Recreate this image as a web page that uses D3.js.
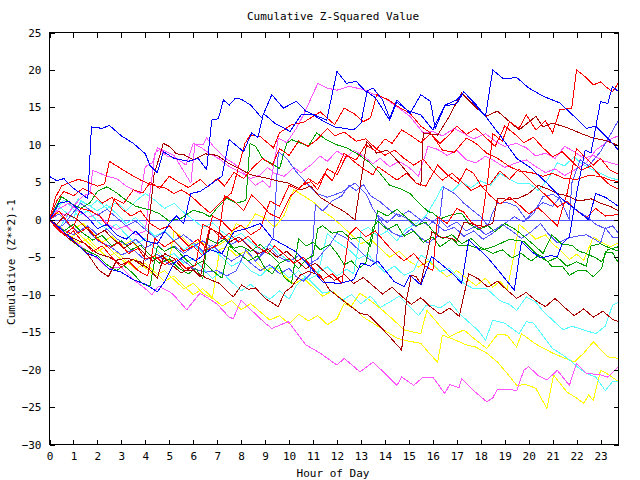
<!DOCTYPE html>
<html><head><meta charset="utf-8">
<script src="https://cdn.jsdelivr.net/npm/d3@7"></script>
<style>
body{margin:0;background:#fff}
svg{display:block}
text{font-family:"DejaVu Sans Mono","Liberation Mono",monospace;font-size:11px;fill:#000}
</style>
</head><body>
<svg id="chart" width="640" height="480"></svg>
<script>
const titleText = "Cumulative Z-Squared Value";
const xLabelText = "Hour of Day";
const yLabelText = "Cumulative (Z**2)-1";
const xTickValues = d3.range(0, 24);
const yTickValues = [-30, -25, -20, -15, -10, -5, 0, 5, 10, 15, 20, 25];
const xDomain = [0, 23.75];
const yDomain = [-30, 25];

// Each series: [hour, cumulative value] vertices
const yellow1 = [[0,0],[0.4,-1.2],[0.8,-2.5],[1.2,-1.8],[1.6,-3],[2,-4.2],[2.4,-3.5],[2.8,-4.8],[3.2,-5.8],[3.6,-5.2],[4,-6.4],[4.4,-7.5],[4.8,-6.8],[5.2,-8],[5.6,-9.2],[6,-8.5],[6.4,-9.8],[6.8,-10.5],[7.1,-4],[7.4,-3.6],[7.8,-4.8],[8.2,-4.2],[8.6,-5.6],[9,-6.8],[9.4,-6.3],[9.8,-7.5],[10.2,-8.6],[10.6,-7.8],[11,-9],[11.4,-10.2],[11.8,-9.5],[12.2,-10.6],[12.6,-11.5],[12.96,-9.8],[13.4,-10.8],[13.8,-11.8],[14.3,-13.2],[14.8,-14.7],[15.2,-15],[15.5,-15.2],[15.75,-12.1],[16.2,-13.8],[16.7,-15.6],[17.3,-14.7],[17.7,-15.8],[18.25,-17.2],[18.7,-15.3],[19.1,-15.4],[19.5,-17],[19.7,-15.2],[20.3,-16.6],[21,-17.8],[21.9,-19],[22.3,-17.8],[22.7,-16.3],[23.3,-18.3],[23.75,-18.5]];
const yellow2 = [[0,0],[0.4,-0.8],[0.8,-2],[1.2,-3.2],[1.6,-2.5],[2,-3.8],[2.4,-5],[2.8,-4.3],[3.2,-5.5],[3.6,-6.6],[4,-5.8],[4.4,-7],[4.8,-8.2],[5.2,-7.5],[5.6,-8.8],[6,-10],[6.4,-9.2],[6.8,-10.4],[7.2,-11.5],[7.6,-10.8],[8,-12],[8.4,-11.2],[8.8,-12.3],[9.2,-13.4],[9.6,-12.8],[10,-13.9],[10.4,-12.6],[10.8,-13.5],[11.2,-12.8],[11.6,-14],[12,-13.2],[12.3,-11.2],[12.7,-11.8],[13.1,-13],[13.5,-13.8],[14,-14.8],[14.5,-15.8],[15,-16.2],[15.5,-16.5],[15.9,-18],[16.2,-19],[16.4,-15.4],[16.9,-16],[17.4,-16.7],[17.8,-17],[18.25,-17.8],[18.7,-19],[19.1,-20.5],[19.5,-22.1],[19.9,-22],[20.3,-22.5],[20.76,-25.2],[21.04,-20.7],[21.3,-21.8],[21.6,-23],[22,-23.8],[22.3,-24.5],[22.5,-23.4],[22.7,-24.1],[23,-20.1],[23.3,-20.6],[23.75,-21.6]];
const yellow3 = [[0,0],[0.3,1],[0.6,0.2],[1,-1.2],[1.4,-0.5],[1.8,-1.8],[2.2,-3],[2.6,-2.2],[3,-3.5],[3.4,-2.8],[3.8,-4],[4.2,-5.2],[4.6,-4.4],[5,-5.6],[5.2,-1.5],[5.5,-2.2],[5.9,-3.5],[6.3,-2.8],[6.7,-4],[7.1,-3.3],[7.5,-2.5],[7.8,-0.5],[8.2,-1.2],[8.6,0.8],[9,0.2],[9.4,-1],[9.8,0.6],[10.2,4],[10.6,3.2],[11,2.4],[11.4,1.2],[11.8,0.3],[12.2,-0.8],[12.6,-2],[13,-3.2],[13.4,-2.6],[13.8,-3.8],[14.2,-5],[14.6,-4.2],[15,-5.5],[15.4,-6.3],[15.8,-5.5],[16.2,-6.6],[16.6,-7.6],[17,-6.8],[17.4,-7.8],[17.8,-8.8],[18.2,-7.8],[18.5,-9],[18.8,-8.2],[19.1,-9.3],[19.4,-4.5],[19.6,-0.6],[19.9,-1.4],[20.3,-2.6],[20.7,-2],[21,-3.2],[21.3,-4],[21.7,-5.3],[22,-4.6],[22.3,-5.4],[22.7,-2.3],[23,-2.9],[23.4,-3.6],[23.75,-3.1]];
const cyan1 = [[0,0],[0.3,1.5],[0.6,2.6],[0.9,1.8],[1.2,0.5],[1.6,1.2],[2,-0.2],[2.4,-1.3],[2.8,-0.6],[3.2,-2],[3.6,-3.2],[4,-2.5],[4.4,-3.8],[4.8,-5],[5.2,-4.5],[5.6,-5.8],[6,-5.2],[6.4,-6.5],[6.8,-7.8],[7.2,-7],[7.6,-8.3],[8,-9.5],[8.4,-8.6],[8.8,-9.8],[9.2,-10.6],[9.6,-9.5],[10,-10.6],[10.3,-8.8],[10.7,-7.6],[11,-8.5],[11.4,-9.8],[11.8,-9.5],[12.2,-10.8],[12.6,-10],[13,-11.2],[13.4,-10.2],[13.8,-11.7],[14.2,-11],[14.6,-10.2],[15,-11.5],[15.4,-12.8],[15.7,-11.5],[16,-11.4],[16.3,-11.8],[16.7,-10.9],[17.1,-12.5],[17.55,-13.8],[17.9,-14.8],[18.2,-16.1],[18.5,-13.4],[19,-13.8],[19.3,-14.5],[19.6,-15.2],[19.9,-13.6],[20.2,-13.8],[20.6,-15.5],[21,-17.2],[21.4,-18],[21.7,-18.7],[22.1,-19.8],[22.4,-20.5],[22.8,-21],[23.2,-22.8],[23.5,-21.6],[23.75,-21.6]];
const cyan2 = [[0,0],[0.4,-1.2],[0.8,0.8],[1.2,2.8],[1.6,2],[2,1.2],[2.4,2],[2.8,0.8],[3.2,-0.5],[3.6,0.3],[4,-1],[4.4,-2.2],[4.8,-1.5],[5.2,-2.8],[5.6,-4],[6,-3.2],[6.4,-4.5],[6.8,-3.8],[7.2,-5],[7.6,-6.2],[8,-5.5],[8.4,-6.8],[8.8,-7.5],[9.2,-6.3],[9.6,-6.5],[10,-7.8],[10.4,-6.8],[10.8,-8],[11.2,-7.3],[11.6,-1.8],[11.8,-2.5],[12.1,-3.2],[12.5,-4],[12.9,-5.2],[13.3,-4.6],[13.6,-5.8],[14,-7],[14.4,-6.2],[14.8,-7.4],[15.2,-6.8],[15.5,-4.7],[15.9,-5.5],[16.3,-6.9],[16.7,-6.5],[17.3,-8.5],[17.7,-9.2],[18.25,-9.2],[18.8,-10.8],[19.2,-11.3],[19.5,-12.1],[19.9,-10.3],[20.3,-11],[20.6,-12.2],[21,-13.4],[21.45,-14.7],[21.8,-14.2],[22.2,-14.6],[22.8,-15.2],[23.2,-14.2],[23.5,-11.4],[23.75,-11]];
const cyan3 = [[0,0],[0.3,2],[0.6,1.2],[1,0.2],[1.3,2.5],[1.7,1.8],[2,2.6],[2.4,1.5],[2.8,2.3],[3.2,1.2],[3.6,2.5],[4,3.5],[4.4,2.6],[4.8,1.5],[5.2,2.2],[5.6,1],[6,0],[6.4,-1],[6.8,-0.4],[7.2,-1.6],[7.6,-2.5],[8,-1.8],[8.4,-3],[8.8,-4],[9.2,-3.3],[9.6,-4.6],[10,-5.5],[10.4,-4.8],[10.8,-6],[11.2,-7],[11.6,-6.3],[12,-7.5],[12.4,-6.6],[12.7,-7.2],[13,-1.5],[13.3,-1],[13.7,-2.2],[14.1,-1.5],[14.5,-2.8],[14.9,-1.2],[15.3,-0.5],[15.7,0.5],[16.1,2.6],[16.4,4.4],[16.8,3.8],[17.2,5],[17.6,4.3],[18,5.2],[18.4,4.6],[18.8,6.2],[19.2,5.4],[19.6,4.8],[20,4.9],[20.4,3.9],[20.8,5.4],[21.2,7.6],[21.5,7.2],[21.9,8.4],[22.2,7.5],[22.6,6.8],[23,6.2],[23.4,5.6],[23.75,5.3]];
const magenta1 = [[0,0],[0.5,-1.5],[1,-2.8],[1.5,-4],[2,-5.2],[2.46,-6.5],[3,-6.3],[3.5,-8],[4,-9.2],[4.27,-10],[4.55,-8.9],[5,-9.6],[5.17,-10],[5.73,-12],[6.28,-9.8],[6.98,-11.2],[7.5,-13],[7.67,-13.2],[8,-10.7],[8.5,-12.3],[9,-13.8],[9.28,-14.5],[9.97,-13.6],[10.7,-16.7],[11.3,-17.8],[12,-19.4],[12.3,-18.5],[12.96,-20.3],[13.5,-19],[14,-20.5],[14.5,-22.1],[14.7,-21],[15.2,-22.1],[15.6,-21],[16,-21],[16.5,-23.2],[16.7,-22],[17.1,-22.4],[17.2,-21.2],[17.7,-22.8],[18.25,-24.3],[18.5,-23.8],[18.7,-22.6],[19.1,-22.6],[19.5,-22.8],[19.8,-20.1],[20,-19.6],[20.4,-20.8],[20.76,-21.4],[21.2,-20.1],[21.7,-22.1],[22,-19.2],[22.4,-20.5],[23,-20.7],[23.3,-21],[23.75,-19.6]];
const magenta2 = [[0,0],[0.3,1.2],[0.7,0.5],[1,1.8],[1.4,3.2],[1.7,3.5],[1.8,6.6],[2.1,6.2],[2.4,5.8],[2.8,5.5],[3.2,4.5],[3.5,4],[3.8,3.5],[4,7.1],[4.3,7.6],[4.5,9.6],[4.8,9.2],[5.2,8.6],[5.6,6.5],[5.9,4.9],[6.07,10],[6.4,10],[6.56,10.9],[6.9,9.6],[7.3,8.3],[7.7,7.5],[8,6.7],[8.3,5.5],[8.6,4.6],[8.9,5.2],[9.2,4.3],[9.55,10.9],[9.9,10.3],[10.3,12.2],[10.6,14],[11.2,18.2],[11.56,17.6],[12,17.3],[12.5,17.8],[13.1,17.4],[13.5,16.8],[14,16.2],[14.5,15.1],[15.05,13.8],[15.6,11.6],[16,11.8],[16.4,11.2],[16.9,12.2],[17.3,11.5],[17.7,10.8],[18.2,11.5],[18.6,10.5],[19,9.8],[19.5,10.2],[19.9,9.6],[20.3,8.5],[20.7,8.9],[21.1,8.2],[21.5,9.8],[21.9,9.1],[22.3,8.2],[22.7,8.6],[23.1,7.9],[23.75,7.3]];
const magenta3 = [[0,0],[0.4,1.5],[0.8,2.2],[1.2,1.2],[1.6,0.3],[2,0.8],[2.4,-0.5],[2.8,-1.3],[3.2,-0.8],[3.6,-2],[4,-1.5],[4.4,8.9],[4.6,9.4],[4.9,8.5],[5.3,8.2],[5.7,7.3],[6,10.2],[6.3,9.7],[6.7,8.8],[7.1,8.1],[7.5,7.1],[8,6.3],[8.4,5.5],[8.8,6],[9.1,7],[9.4,6.2],[9.8,5.8],[10.2,7],[10.5,6.3],[10.9,7.3],[11.3,8.5],[11.6,7.8],[12,9.2],[12.4,8.3],[12.7,9.3],[13.1,8.5],[13.5,7.5],[13.8,8.2],[14.2,7.1],[14.6,7.8],[15,7],[15.4,5.8],[15.8,9.8],[16.2,9.4],[16.6,8.6],[17,9.3],[17.4,8],[17.8,7.6],[18.2,8.5],[18.6,7.8],[19,7],[19.4,7.5],[19.9,8],[20.3,7.1],[20.7,6.3],[21.1,6.8],[21.5,5.9],[22,6.8],[22.4,7.6],[22.8,9.3],[23.2,10.2],[23.5,10.9],[23.75,11.2]];
const lightblue1 = [[0,0],[0.5,-1.2],[1,-2],[1.5,-1],[2,-2.8],[2.5,-3.5],[3,-4.7],[3.5,-4],[4,-5.4],[4.5,-4.6],[5,-6],[5.5,-5.2],[6,-6.5],[6.5,-7],[7,-6.8],[7.4,-7.5],[7.8,-6.8],[8.2,-4],[8.6,-5.5],[9,-4.2],[9.35,-2.3],[9.55,9.1],[9.9,8.2],[10.3,6.4],[10.7,5],[11.15,3.5],[11.6,3],[12.2,3.7],[12.75,4.9],[13.2,3.5],[13.5,1.5],[13.9,-0.5],[14.3,-1.7],[14.7,-2.3],[15.1,-1.2],[15.5,-2.4],[15.8,-3.1],[16.2,-2.2],[16.44,4.4],[16.9,3.5],[17.3,2.2],[18,0.4],[18.3,-0.8],[18.5,1],[18.7,2.2],[19.1,2.3],[19.5,1.8],[19.9,0],[20.2,0.8],[20.6,3.1],[21,3.4],[21.3,2.8],[21.7,0],[21.8,4.9],[22.15,8],[22.5,7.2],[23,9.1],[23.4,11.3],[23.75,13.3]];
const lightblue2 = [[0,0],[0.4,0.8],[0.8,-0.6],[1.2,-1.6],[1.6,-0.8],[2,-2],[2.4,-1.2],[2.8,-2.5],[3.2,-3.4],[3.6,-2.6],[4,-3.8],[4.4,-3],[4.8,-4.2],[5.2,-3.5],[5.6,-4.5],[6,-3.6],[6.4,-2.8],[6.8,-3.8],[7.2,-2.2],[7.6,-3.3],[8,-2.5],[8.4,-3.8],[8.8,-4.6],[9.2,-3.8],[9.6,-5],[10,-5.6],[10.4,-4.8],[10.8,-6],[11.2,-5.2],[11.5,-4],[11.65,-3.6],[12,-1.8],[12.4,-2.5],[13,-4.3],[13.3,-5.2],[13.65,-5.8],[13.75,0.5],[14.1,-0.4],[14.5,0.8],[14.9,0.2],[15.3,-1],[15.7,0.3],[16.1,-0.5],[16.5,-1.5],[16.9,-1],[17.3,-2.2],[17.7,-1.5],[18.1,-2.6],[18.5,-1.8],[18.9,-0.6],[19.3,-1.5],[19.7,-2.5],[20.1,-1.6],[20.5,-0.5],[20.8,-1.8],[21.2,-3.1],[21.6,-2.5],[22,-2.2],[22.4,-2],[22.7,-2.5],[23,-3.1],[23.2,-1.1],[23.5,-2.3],[23.75,-2.4]];
const lightblue3 = [[0,0],[0.3,-1.2],[0.6,-0.6],[1,1],[1.3,2.2],[1.6,1.5],[2,0.6],[2.4,1.4],[2.8,0.3],[3.2,-0.8],[3.6,-0.2],[4,-1.3],[4.4,-2.4],[4.8,-1.6],[5.2,-2.8],[5.6,-2],[6,-3],[6.4,-4.2],[6.8,-3.4],[7.2,-4.6],[7.6,-5.5],[8,-4.7],[8.4,-5.8],[8.8,-6.8],[9.2,-6],[9.6,-7.2],[10,-6.5],[10.3,-7.6],[10.6,-8.2],[10.9,-7.2],[11.1,2],[11.4,1.2],[11.8,2.5],[12.2,3.2],[12.5,4.6],[12.8,3.9],[13.1,4.7],[13.4,3.2],[13.8,2.4],[14.2,1.3],[14.6,0.4],[15,1.2],[15.4,0.2],[15.8,-0.8],[16.2,0.3],[16.6,-1],[17,-0.3],[17.4,-1.5],[17.8,-0.8],[18.2,-2],[18.6,-1.3],[19,-0.5],[19.4,0.4],[19.8,-0.3],[20.2,1.2],[20.6,2.3],[21,1.8],[21.3,3],[21.7,2.1],[22,1.2],[22.4,0.5],[22.8,-0.6],[23.2,-1.2],[23.5,-0.8],[23.75,-1.8]];
const green1 = [[0,0],[0.3,1.8],[0.5,3.1],[0.9,2.2],[1.3,1.5],[1.7,2.3],[2,3.8],[2.4,4.4],[2.8,3.6],[3.2,2.6],[3.6,1.8],[4.2,1.3],[4.6,0.8],[5,-0.2],[5.5,0.2],[6,1.3],[6.4,0.9],[6.7,0.4],[7,1.6],[7.4,2.9],[7.8,2.2],[8.2,2.6],[8.37,10.2],[8.6,9.8],[8.93,8],[9.3,7.5],[9.6,6.8],[9.9,10.2],[10.1,10.7],[10.5,10.2],[10.8,9.8],[11.15,11.6],[11.5,10.8],[12,10],[12.4,9.6],[12.8,8.9],[13.3,7.8],[13.8,6.2],[14.2,4.6],[14.6,4.2],[15.05,3.5],[15.4,2.3],[15.8,1.1],[16,0.9],[16.3,0.1],[16.7,0.6],[17.2,0.9],[17.5,-0.5],[17.9,-1.3],[18.3,-0.8],[18.6,-1.6],[19,-0.5],[19.4,-1.2],[19.8,-2.2],[20.3,-3.6],[20.6,-4.5],[20.97,-2],[21.4,-3.3],[21.8,-3.4],[22.1,-4.2],[22.4,-4.5],[22.8,-5.1],[23.05,-5.6],[23.3,-4],[23.75,-3.6]];
const green2 = [[0,0],[0.4,-1.3],[0.8,-2.5],[1.2,-3.5],[1.6,-4.2],[2,-4.8],[2.4,-6],[2.8,-6.8],[3.1,-6.1],[3.5,-7.2],[3.9,-8.6],[4.2,-8.8],[4.5,-3.5],[4.8,-4.2],[5.2,-3.6],[5.6,-5],[6,-6.2],[6.4,-5.5],[6.8,-6.8],[7.2,-7.8],[7.5,-3.5],[7.9,-4.5],[8.3,-5.5],[8.7,-4.8],[9,-6.5],[9.3,-7.2],[9.55,-6],[9.8,-7.7],[10.1,-8.5],[10.4,-2.5],[10.7,-3.5],[11,-3],[11.3,-4],[11.7,-3.3],[12,-4.5],[12.3,-6],[12.6,-5.5],[12.9,-6.5],[13.2,-5.8],[13.5,-1],[13.7,-0.2],[14.1,-1.3],[14.5,-0.6],[14.8,-2.2],[15.2,-1.5],[15.6,-3],[16,-2.3],[16.3,-3.6],[16.8,-2.5],[17.1,-3.5],[17.5,-3.4],[18.1,-4],[18.6,-3.5],[19.2,-2.6],[19.8,-2.9],[20.3,-4.5],[20.6,-5],[21,-6.3],[21.4,-6.2],[21.7,-7.4],[22.1,-6.7],[22.4,-6.8],[22.7,-7.6],[23.05,-6.5],[23.2,-4.3],[23.5,-4.4],[23.75,-5.8]];
const green3 = [[0,0],[0.3,-0.8],[0.6,-1.5],[1,-0.6],[1.4,-1.8],[1.8,-2.7],[2.2,-2.1],[2.6,-3.5],[3,-2.8],[3.4,-4],[3.8,-3.4],[4.2,-4.7],[4.6,-5.8],[5,-5.2],[5.4,-6.5],[5.8,-7.2],[6.1,-6.5],[6.4,-7.8],[6.6,-2.5],[7,-3.2],[7.3,-2.6],[7.7,-3.8],[8,-3.5],[8.4,-4.2],[8.8,-3.3],[9.2,-4.6],[9.6,-5.8],[10,-5.2],[10.4,-6.5],[10.7,-5.3],[11,-4.8],[11.2,-1.2],[11.4,-0.8],[11.8,-1.8],[12.2,-1.5],[12.6,-2.6],[13,-2.3],[13.4,-3.5],[13.7,1.2],[14.1,0.5],[14.5,1.4],[14.9,0.3],[15.3,-0.8],[15.7,-0.3],[16,-1.5],[16.4,-2.5],[16.8,-2],[17.2,-3.2],[17.6,-2.5],[18,-3.7],[18.5,-4.5],[18.9,-4],[19.3,-5.1],[19.7,-4.5],[20.1,-5.5],[20.4,-4.8],[20.8,-5.6],[21.2,-5],[21.6,-6.2],[22,-5.6],[22.4,-6.2],[22.6,-3.5],[23,-3.2],[23.4,-3.8],[23.75,-4.2]];
const darkred1 = [[0,0],[0.4,-1.4],[0.8,-2.5],[1.2,-3.4],[1.6,-4.6],[2.05,-6.7],[2.46,-7.6],[2.8,-5.4],[3.2,-5.1],[3.78,-5.6],[4.2,-6.7],[4.5,-7.8],[4.8,-4.5],[5.2,-5.2],[5.6,-6.7],[6,-6.8],[6.56,-7.8],[7.1,-8.5],[7.67,-10.3],[8.02,-8.7],[8.3,-9.3],[8.6,-9.1],[9,-10.5],[9.55,-11.6],[9.83,-9.6],[10.1,-9],[10.46,-7.4],[10.8,-6.9],[11.3,-7.4],[11.7,-9.4],[12.3,-10.9],[12.96,-12.5],[13.3,-12.7],[13.66,-13.8],[14.08,-15.2],[14.7,-17.4],[14.9,-10.7],[15.1,-7.4],[15.3,-7.6],[15.5,-8.5],[15.96,-1.6],[16.3,-2.3],[16.8,-2.5],[17,-2.9],[17.3,-0.3],[17.8,-0.7],[18.1,-0.9],[18.5,-0.5],[18.7,2.9],[19.2,2.7],[19.6,2.9],[20,3.5],[20.4,4.6],[20.8,4.1],[21.2,3.5],[21.6,3.2],[22.1,2.5],[22.6,2.8],[23,2.2],[23.4,1.8],[23.75,1.2]];
const darkred2 = [[0,0],[0.4,-1.5],[1,-2.5],[1.5,-3.2],[2,-4.5],[2.5,-5],[3,-6],[3.5,-5.3],[3.9,-6.2],[4.1,-2.3],[4.35,5.8],[4.75,10.2],[5,9.8],[5.3,8.8],[5.6,8.7],[6,8],[6.5,8.8],[7,8.6],[7.5,7.5],[8,6.7],[8.4,6],[9,5.6],[9.5,5.2],[9.97,4.9],[10.5,4],[10.9,4.5],[11.3,3],[11.8,2],[12.3,1.1],[12.75,0],[13.25,10.4],[13.65,8.9],[14.1,9.3],[14.6,7.6],[15.3,4.9],[15.5,4.6],[15.6,11.6],[16.2,11.3],[16.65,13.6],[17.2,16.9],[17.7,15.3],[18.2,13.8],[18.7,14.5],[19.2,13.1],[19.6,12],[20.3,13.8],[20.6,12.4],[21,12.9],[21.6,12.3],[22.2,11.5],[22.7,10.9],[23.2,10.6],[23.75,9.9]];
const darkred3 = [[0,0],[0.3,-0.6],[0.7,0.8],[1.1,0.2],[1.5,-1],[1.9,-2.2],[2.3,-1.4],[2.7,-2.7],[3.1,-3.8],[3.5,-3],[3.9,-4.3],[4.3,-5.5],[4.7,-4.8],[5.1,-6],[5.5,-7.1],[5.9,-6.4],[6.3,-7.6],[6.7,-1.2],[7.1,-1.8],[7.5,-3],[7.9,-2.3],[8.3,-3.5],[8.7,-4.6],[9.1,-3.9],[9.5,-5],[9.9,-4.2],[10.3,-5.4],[10.7,-6.5],[11.1,-5.8],[11.5,-7],[11.9,-8.1],[12.3,-7.3],[12.7,-8.5],[13.1,-7.7],[13.5,-8.8],[13.9,-9.9],[14.3,-9],[14.7,-10.2],[15.1,-11.3],[15.5,-10.4],[15.9,-11.6],[16.3,-12.6],[16.7,-11.8],[17.1,-12.9],[17.5,-7.2],[17.9,-7.9],[18.3,-9],[18.7,-8.2],[19.1,-9.4],[19.5,-10.5],[19.9,-9.7],[20.3,-10.8],[20.7,-11.6],[21.1,-10.5],[21.5,-11.7],[21.9,-12.8],[22.3,-11.9],[22.7,-13],[23.1,-12.2],[23.5,-13.3],[23.75,-13.6]];
const red1 = [[0,0],[0.25,3],[0.5,4.5],[0.8,4.9],[1.2,5.4],[1.6,5],[2,4.5],[2.3,4.8],[2.5,7.8],[2.9,7],[3.3,6.2],[3.8,5.3],[4.3,4.6],[4.8,4.3],[5.2,3.5],[5.5,4],[5.9,3.2],[6.3,2],[6.7,0.9],[7.2,2.5],[7.6,3.6],[8.16,10.2],[8.37,11.3],[8.8,11.1],[9.35,9.6],[9.6,11.6],[10.1,12.7],[10.6,13],[11.3,14.4],[11.9,12.7],[12.3,14.9],[12.7,14.2],[13.1,13.1],[13.4,13.6],[13.66,16.7],[14.15,16],[14.6,15],[15.05,14.2],[15.5,12.5],[15.9,11.6],[16.4,9.3],[16.9,9],[17.4,10.9],[17.8,10.2],[18.25,8.9],[18.7,8.2],[19.2,7.1],[19.6,6.5],[20.1,6.3],[20.6,5.8],[21,6.2],[21.5,5.5],[22,5.4],[22.5,5.9],[23,5.8],[23.4,5.3],[23.75,5.1]];
const red2 = [[0,0],[0.4,1.2],[0.8,-0.5],[1.2,-1.8],[1.6,-1],[2,-2.6],[2.5,-3.8],[2.9,-3],[3.3,-4.5],[3.7,-3.8],[4,-5.2],[4.4,-4.8],[4.8,-6],[5.3,-5.2],[5.7,-6.5],[6.1,-6.1],[6.4,-0.6],[6.8,-1.3],[7.2,-2.6],[7.5,-1.8],[7.9,-3],[8.3,-2.2],[8.7,-3.6],[9.1,-4.5],[9.4,-3.5],[9.8,-4.6],[10.2,-5.8],[10.6,-5],[11,-6.5],[11.4,-8],[11.8,-7.2],[12.2,-8.5],[12.5,-2],[12.8,-1],[13.2,-2.3],[13.6,-1.5],[14,-3],[14.4,-4.4],[14.8,-5.5],[15.2,-4.5],[15.6,-6],[16,-6.8],[16.2,0.4],[16.6,-0.5],[17,1.5],[17.3,1],[17.6,-0.3],[18,-1.2],[18.3,5.5],[18.5,11.5],[18.9,10.5],[19.2,13.1],[19.6,12.2],[19.9,14],[20.3,12],[20.7,13.2],[21,11.6],[21.3,14.7],[21.8,14.9],[22,20],[22.4,19],[22.7,18],[23,18.4],[23.25,17.7],[23.5,17.1],[23.75,18.3]];
const red3 = [[0,0],[0.3,2.5],[0.6,3.8],[1,3.2],[1.4,4.2],[1.8,3.5],[2.2,2.2],[2.6,3],[3,1.5],[3.4,0.5],[3.8,1.2],[4.2,-0.5],[4.6,-1.3],[5,-0.8],[5.4,-2.2],[5.8,-3.5],[6.2,-2.6],[6.6,-4],[7,-3.4],[7.3,3.2],[7.7,2.5],[8.1,1.2],[8.44,3.3],[8.8,2.2],[9.2,0.8],[9.6,0.2],[10.04,3.1],[10.5,4.5],[10.9,5.1],[11.2,4],[11.5,6.2],[11.8,5.2],[12.06,7.1],[12.3,8.9],[12.7,7.8],[13.1,6.8],[13.5,6],[13.7,7.1],[14.1,6.2],[14.5,5.3],[14.9,6.2],[15.3,4.9],[15.7,4.5],[16.2,7.3],[16.6,6],[17.07,4.9],[17.4,6.8],[17.7,6.2],[18.05,4.4],[18.4,4.8],[18.8,6.5],[19.2,5.4],[19.6,6.8],[20,5.5],[20.4,4.2],[20.8,3],[21.2,1.7],[21.6,2.5],[22,1.2],[22.4,0.3],[22.8,1.5],[23.2,0.5],[23.75,0.7]];
const red4 = [[0,0],[0.3,-1.2],[0.6,-2],[1,-1],[1.3,1.5],[1.7,1.2],[2.1,0.5],[2.4,-0.8],[2.7,2.8],[3.1,2.2],[3.5,4],[3.9,3.6],[4.2,5],[4.6,4.2],[5,5.8],[5.4,5],[5.8,4.3],[6.3,5.4],[6.6,4.4],[7,5.5],[7.3,4.5],[7.7,6.3],[8.1,5.5],[8.5,7],[8.9,8.2],[9.3,7.3],[9.6,9.5],[10,8.6],[10.4,10.5],[10.8,9.8],[11.2,10.8],[11.6,12.2],[11.9,11.2],[12.3,11.7],[12.8,10.5],[13.2,10.8],[13.6,9.6],[14,8.6],[14.4,9.3],[14.8,8.2],[15.2,7.3],[15.6,8.1],[16,6.5],[16.4,5.3],[16.8,6.2],[17.2,5.1],[17.6,3.9],[18,4.6],[18.4,3.2],[18.8,2.1],[19.2,3],[19.6,2],[20,0.8],[20.4,1.6],[20.8,0.4],[21.2,-0.8],[21.6,3.5],[22,9.5],[22.3,8.5],[22.7,7.3],[23,8.2],[23.4,6.6],[23.75,6.1]];
const red5 = [[0,0],[0.3,-1],[0.7,-2.2],[1,-1.5],[1.4,-3],[1.8,-4.2],[2.2,-3.5],[2.6,-5],[3,-6.4],[3.3,-5.5],[3.7,-6.8],[4.1,-7.5],[4.4,-2.5],[4.8,-3.6],[5.2,-2.8],[5.6,-4.2],[6,-3.5],[6.4,-4.8],[6.8,0.5],[7.2,-0.2],[7.6,-1.5],[8,-0.7],[8.4,-2],[8.8,-1.2],[9.2,2.5],[9.6,1.8],[10,4.6],[10.4,4],[10.8,5.5],[11.2,4.7],[11.6,6.8],[12,6],[12.4,8.6],[12.8,8],[13.2,10],[13.6,9.2],[14,10.8],[14.3,10.2],[14.7,12],[15.1,11.2],[15.5,10.3],[15.9,11.5],[16.3,10.2],[16.7,11.4],[17,12.5],[17.4,11.4],[17.8,12.2],[18.2,11],[18.6,9.8],[19,12.5],[19.4,11.5],[19.8,10.3],[20.2,11],[20.6,9.6],[21,8.4],[21.4,9.1],[21.8,7.8],[22.2,6.6],[22.6,7.2],[23,5.8],[23.4,4.6],[23.75,4.1]];
const blue1 = [[0,5.8],[0.3,5.2],[0.6,5.5],[1,4.2],[1.4,3.3],[1.6,2.8],[1.75,12.4],[2.2,12.2],[2.5,12.6],[3,11.2],[3.5,10.2],[4,8.8],[4.2,7.2],[4.5,6.3],[4.75,9.1],[5.2,8.2],[5.8,7.8],[6.2,8.2],[6.56,6.7],[6.77,13.3],[7.05,13.5],[7.26,16],[7.5,15.3],[7.75,16.2],[8,16.1],[8.4,15.3],[8.86,13.6],[9.28,16.7],[9.76,14.9],[10.3,15.8],[10.7,14.5],[11.2,13.8],[11.57,13.3],[12,19.8],[12.4,18.2],[12.8,18.5],[13.2,17.1],[13.5,17.6],[13.9,16],[14.2,13.6],[14.5,16],[15.05,14.2],[15.5,16.7],[15.9,15.8],[16.1,12.2],[16.5,15.2],[17,15.5],[17.3,17.1],[17.8,15.4],[18.2,13.8],[18.5,20],[18.95,18.8],[19.5,19],[20,17.6],[20.6,16.5],[21.3,15.6],[21.9,13.8],[22.4,12.2],[22.8,12.5],[23.3,10.9],[23.75,9.3]];
const blue2 = [[0,0],[0.5,-1.3],[1,-2.8],[1.5,-4.4],[2,-5],[2.5,-6.6],[3,-7],[3.5,-8],[4,-8.6],[4.5,-9.6],[4.8,-8.3],[5.2,-5.8],[5.7,-4.7],[6.1,-5.5],[6.7,-4],[7.2,-4.5],[7.7,-1.6],[8.2,-1.2],[8.8,-0.5],[9.3,-2.5],[9.8,-3.4],[10.3,-4.3],[10.7,-5.6],[11.4,-8.3],[12.1,-8.5],[12.7,-8],[13,-5.8],[13.4,-6.2],[13.7,-5.5],[14.4,-8.3],[14.8,-8.9],[15.05,-7.4],[15.5,-8.7],[15.95,-4.9],[16.3,-5.8],[16.9,-7.4],[17.2,-8.5],[17.5,-2.7],[18.25,-4.9],[18.8,-7],[19.4,-9.4],[19.7,-2.9],[20.1,-4.2],[20.5,-5.1],[20.9,-4.8],[21.2,-4.9],[21.4,-3.2],[21.7,-2.3],[22,3.5],[22.36,9.3],[22.6,8.9],[23,15.8],[23.3,15.5],[23.5,17.8],[23.75,17.1]];
const blue3 = [[0,0],[0.4,2.2],[0.8,2.5],[1.2,1.4],[1.6,0.3],[2,-1.2],[2.4,-0.6],[2.8,-2],[3.2,-2.6],[3.6,-1.5],[4,-2.8],[4.5,-3.2],[5,-0.5],[5.3,0.5],[5.6,-0.5],[5.9,3.5],[6.3,3.8],[6.8,4.9],[7.2,5.8],[7.5,10.7],[8.1,9.1],[8.44,11.6],[8.7,11],[8.93,14.2],[9.4,12.9],[10.04,11.8],[10.5,14],[11,14],[11.36,13.3],[11.9,12.4],[12.7,12],[13,12.9],[13.25,17.1],[13.6,16.3],[14.2,13.3],[14.5,15.7],[15,14.5],[15.5,14],[16,12],[16.5,15.3],[17,16],[17.3,17.1],[17.8,15.2],[18.25,13.6],[18.8,11.3],[19.5,8.2],[20.1,6.9],[20.76,4.9],[21.45,2.6],[22,1.3],[22.5,0],[22.8,3.5],[23.2,3],[23.75,1.8]];

const seriesList = [
  {color: "#ffff00", values: yellow1},
  {color: "#ffff00", values: yellow2},
  {color: "#ffff00", values: yellow3},
  {color: "#55ffff", values: cyan1},
  {color: "#55ffff", values: cyan2},
  {color: "#55ffff", values: cyan3},
  {color: "#ff55ff", values: magenta1},
  {color: "#ff55ff", values: magenta2},
  {color: "#ff55ff", values: magenta3},
  {color: "#5555ff", values: lightblue1},
  {color: "#5555ff", values: lightblue2},
  {color: "#5555ff", values: lightblue3},
  {color: "#00a000", values: green1},
  {color: "#00a000", values: green2},
  {color: "#00a000", values: green3},
  {color: "#aa0000", values: darkred1},
  {color: "#aa0000", values: darkred2},
  {color: "#aa0000", values: darkred3},
  {color: "#ff0000", values: red1},
  {color: "#ff0000", values: red2},
  {color: "#ff0000", values: red3},
  {color: "#ff0000", values: red4},
  {color: "#ff0000", values: red5},
  {color: "#0000ff", values: blue1},
  {color: "#0000ff", values: blue2},
  {color: "#0000ff", values: blue3}
];

const svg = d3.select("#chart");
const plotLeft = 49.5, plotRight = 618.5, plotTop = 32.5, plotBottom = 444.5;
const x = d3.scaleLinear().domain(xDomain).range([plotLeft, plotRight]);
const y = d3.scaleLinear().domain(yDomain).range([plotBottom, plotTop]);

svg.append("defs").append("clipPath").attr("id","plotclip")
  .append("rect").attr("x", plotLeft).attr("y", plotTop)
  .attr("width", plotRight-plotLeft).attr("height", plotBottom-plotTop);

const plot = svg.append("g").attr("clip-path","url(#plotclip)");

// zero axis
const zeroY = Math.round(y(0)) + 0.5;
plot.append("line")
  .attr("x1", plotLeft).attr("x2", plotRight)
  .attr("y1", zeroY).attr("y2", zeroY)
  .attr("stroke", "#5555ff").attr("stroke-width", 1).attr("shape-rendering","crispEdges");

const line = d3.line().x(d => x(d[0])).y(d => y(d[1]));
plot.selectAll("path.series").data(seriesList).join("path")
  .attr("class","series")
  .attr("d", d => line(d.values))
  .attr("fill","none")
  .attr("stroke", d => d.color)
  .attr("stroke-width", 1)
  .attr("shape-rendering","crispEdges");

// axes with inward ticks
const gx = svg.append("g").attr("transform", `translate(0,${plotBottom})`)
  .call(d3.axisBottom(x).tickValues(xTickValues).tickSize(-5).tickPadding(8).tickFormat(d3.format("d")));
const gxt = svg.append("g").attr("transform", `translate(0,${plotTop})`)
  .call(d3.axisTop(x).tickValues(xTickValues).tickSize(-5).tickFormat(""));
const gy = svg.append("g").attr("transform", `translate(${plotLeft},0)`)
  .call(d3.axisLeft(y).tickValues(yTickValues).tickSize(-5).tickPadding(8).tickFormat(d3.format("d")));
const gyr = svg.append("g").attr("transform", `translate(${plotRight},0)`)
  .call(d3.axisRight(y).tickValues(yTickValues).tickSize(-5).tickFormat(""));
[gx,gxt,gy,gyr].forEach(g => {
  g.select(".domain").remove();
  g.selectAll("line").attr("stroke","#000").attr("shape-rendering","crispEdges");
  g.selectAll("text").attr("fill","#000")
    .style("font-family",'"DejaVu Sans Mono","Liberation Mono",monospace').style("font-size","11px");
});

svg.append("rect").attr("x", plotLeft).attr("y", plotTop)
  .attr("width", plotRight-plotLeft).attr("height", plotBottom-plotTop)
  .attr("fill","none").attr("stroke","#000").attr("stroke-width",1).attr("shape-rendering","crispEdges");

svg.append("text").attr("x", 333).attr("y", 20).attr("text-anchor","middle").text(titleText);
svg.append("text").attr("x", 333).attr("y", 477).attr("text-anchor","middle").text(xLabelText);
svg.append("text").attr("transform","translate(15,262) rotate(-90)").attr("text-anchor","middle").text(yLabelText);
</script>
</body></html>
